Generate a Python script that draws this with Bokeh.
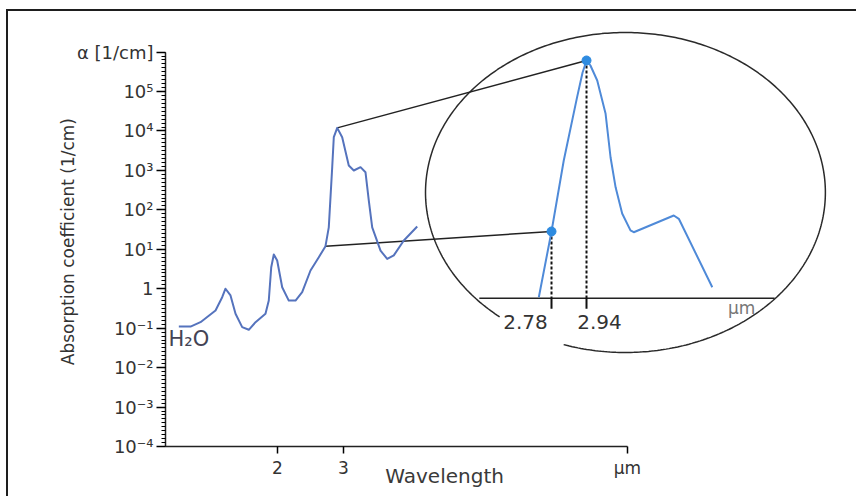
import numpy as np
from bokeh.plotting import figure
from bokeh.models import Range1d, LinearScale, FixedTicker, Label
from bokeh.embed import file_html
from bokeh.resources import INLINE
from bokeh.core.properties import value

# ---------------- data ----------------
# main spectrum of water (wavelength in µm, absorption coefficient in 1/cm)
wavelength_um = [0.505, 0.682, 0.833, 1.061, 1.162, 1.212, 1.288, 1.364, 1.465, 1.565,
                 1.667, 1.818, 1.868, 1.905, 1.944, 1.995, 2.071, 2.171, 2.273, 2.374,
                 2.500, 2.626, 2.727, 2.777, 2.829, 2.853, 2.905, 2.980, 3.080, 3.156,
                 3.258, 3.333, 3.383, 3.435, 3.561, 3.662, 3.762, 3.914, 4.117]
absorption = [0.11, 0.11, 0.142, 0.28, 0.61, 1.0, 0.675, 0.232, 0.106, 0.091,
              0.142, 0.232, 0.504, 3.5, 7.4, 5.2, 1.09, 0.50, 0.50, 0.82,
              2.9, 6.3, 12.0, 36, 1210, 6950, 12000, 6950, 1330, 995,
              1210, 900, 173, 36, 9.3, 5.7, 7.0, 16.7, 37.8]

# magnified detail around the 2.94 µm peak
zoom_wavelength_um = [2.722, 2.780, 2.836, 2.897, 2.922, 2.940, 2.958, 2.989, 3.027,
                      3.050, 3.073, 3.103, 3.141, 3.156, 3.339, 3.362, 3.515]
zoom_absorption = [1.04, 14, 231, 2820, 7460, 12000, 9840, 5440, 1480,
                   260, 80, 28.5, 14.6, 13.6, 26.3, 23.1, 1.55]

marked_wavelength = [2.78, 2.94]
marked_absorption = [14, 12000]
marked_labels = ["2.78", "2.94"]
anchor_wavelength = [2.727, 2.905]      # matching points on the main curve
anchor_absorption = [12.0, 12000]

y_ticks = [1e-4, 1e-3, 1e-2, 1e-1, 1.0, 1e1, 1e2, 1e3, 1e4, 1e5, 1e6]
y_tick_labels = ["10⁻⁴", "10⁻³", "10⁻²", "10⁻¹", "1", "10¹", "10²", "10³", "10⁴",
                 "10⁵", "α [1/cm]"]
X_AXIS_END = 7.303
x_ticks = [2, 3, X_AXIS_END]
x_tick_labels = ["2", "3", "µm"]

# ---------------- ranges ----------------
X0, X1 = 0.303, 10.591          # main wavelength range
LY0, LY1 = -4.0, 6.801          # main log10(alpha) range
IX0, IX1 = 1.0154, 4.1194       # inset wavelength range
IY0, IY1 = -2.542, 4.765        # inset log10(alpha) range

FONT = "DejaVu Sans"
TXT = "#333333"
NB = "\u00a0"

p = figure(width=850, height=487, x_range=Range1d(X0, X1),
           y_range=Range1d(10 ** LY0, 10 ** LY1), y_axis_type="log",
           output_backend="svg", toolbar_location=None,
           min_border_left=157, min_border_right=14, min_border_top=9,
           min_border_bottom=52)
p.extra_x_ranges = {"ix": Range1d(IX0, IX1)}
p.extra_y_ranges = {"iy": Range1d(IY0, IY1)}
p.extra_x_scales = {"ix": LinearScale()}
p.extra_y_scales = {"iy": LinearScale()}
p.grid.visible = False
p.outline_line_color = None
p.background_fill_color = "white"
p.border_fill_color = "white"
p.styles = {"position": "relative", "left": "8px", "top": "11px",
            "box-shadow": "-2px -2px 0 0 #1e1e1e"}

# ---- axes ----
ya = p.yaxis[0]
ya.ticker = FixedTicker(ticks=y_ticks,
                        minor_ticks=[10 ** (k / 10) for k in range(-40, 61)])
ya.major_label_overrides = {t: s for t, s in zip(y_ticks, y_tick_labels)}
ya.bounds = (1e-4, 1e6)
ya.axis_line_color = "#222222"
ya.axis_line_width = 1.5
ya.major_tick_out = 9
ya.major_tick_in = 0
ya.major_tick_line_width = 1.5
ya.minor_tick_out = 4
ya.minor_tick_in = 0
ya.major_label_standoff = 3
ya.major_label_text_font = FONT
ya.major_label_text_font_size = "18px"
ya.major_label_text_color = TXT
ya.axis_label = "Absorption coefficient (1/cm)" + NB * 3
ya.axis_label_text_font = FONT
ya.axis_label_text_font_style = "normal"
ya.axis_label_text_font_size = "17px"
ya.axis_label_text_color = TXT
ya.axis_label_standoff = -4

xa = p.xaxis[0]
xa.ticker = FixedTicker(ticks=x_ticks, minor_ticks=[])
xa.major_label_overrides = {t: s for t, s in zip(x_ticks, x_tick_labels)}
xa.bounds = (X0, X_AXIS_END)
xa.axis_line_color = "#222222"
xa.axis_line_width = 1.5
xa.major_tick_out = 7
xa.major_tick_in = 0
xa.major_tick_line_width = 1.5
xa.major_label_standoff = 4
xa.major_label_text_font = FONT
xa.major_label_text_font_size = "17px"
xa.major_label_text_color = TXT
xa.axis_label = "Wavelength" + NB * 19
xa.axis_label_text_font = FONT
xa.axis_label_text_font_style = "normal"
xa.axis_label_text_font_size = "20px"
xa.axis_label_text_color = "#3a3a3a"
xa.axis_label_standoff = -17


def inset_to_main(lam, a):
    lam = np.asarray(lam, dtype=float)
    la = np.log10(np.asarray(a, dtype=float))
    x = X0 + (lam - IX0) * (X1 - X0) / (IX1 - IX0)
    ly = LY0 + (la - IY0) * (LY1 - LY0) / (IY1 - IY0)
    return x, 10 ** ly


INS = dict(x_range_name="ix", y_range_name="iy")

# ---- magnifier ellipse (gap where the tick labels sit) ----
t = np.radians(np.linspace(252, 591, 400))
p.line(3.118 + 0.914 * np.cos(t), 1.815 + 2.744 * np.sin(t),
       line_color="#2a2a2a", line_width=1.5, **INS)

# ---- connector lines ----
cx, cy = inset_to_main(marked_wavelength, marked_absorption)
p.segment(x0=anchor_wavelength, y0=anchor_absorption, x1=cx, y1=cy,
          line_color="#222222", line_width=1.5)

# ---- main spectrum ----
p.line(wavelength_um, absorption, line_color="#5573bd", line_width=2,
       line_join="round")

# ---- inset axis ----
p.segment(x0=[2.45], y0=[0], x1=[3.80], y1=[0], line_color="#222222",
          line_width=1.5, **INS)
mk_log = list(np.log10(marked_absorption))
p.segment(x0=marked_wavelength, y0=mk_log, x1=marked_wavelength, y1=[0, 0],
          line_color="#111111", line_width=2, line_dash="3 2", **INS)
p.segment(x0=marked_wavelength, y0=[0, 0], x1=marked_wavelength, y1=[-0.18, -0.18],
          line_color="#111111", line_width=2, **INS)

# ---- inset curve ----
p.line(zoom_wavelength_um, list(np.log10(zoom_absorption)), line_color="#4f8ad8",
       line_width=2, line_join="round", **INS)
p.scatter(marked_wavelength, mk_log, size=9, fill_color="#2e8be0",
          line_color="#2e8be0", **INS)

p.text(x=marked_wavelength, y=[-0.40, -0.40], text=marked_labels,
       x_offset=[-26, 13], text_align="center", text_baseline="middle",
       text_font=value(FONT), text_font_size="20px", text_color=TXT, **INS)

p.add_layout(Label(x=3.649, y=-0.16, text="µm", text_align="center",
                   text_baseline="middle", text_font=FONT, text_font_size="17px",
                   text_color="#777777", x_range_name="ix", y_range_name="iy"))
p.add_layout(Label(x=0.348, y=10 ** -1.262, text="H₂O", text_align="left",
                   text_baseline="middle", text_font=FONT, text_font_size="21px",
                   text_color="#444455"))

open("out.html", "w").write(file_html(p, INLINE))
